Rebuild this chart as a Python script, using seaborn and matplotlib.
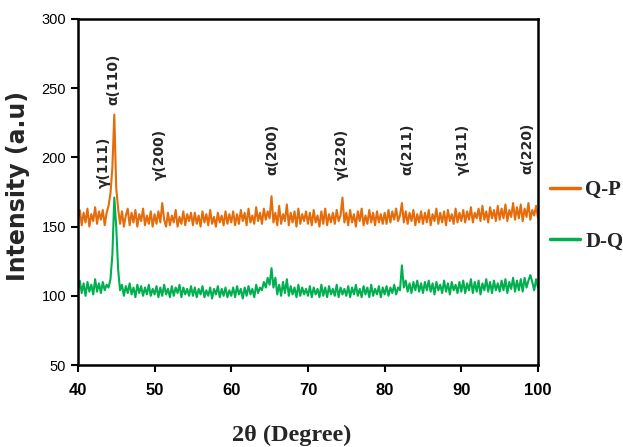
import seaborn as sns
import matplotlib.pyplot as plt
from matplotlib.lines import Line2D
import pandas as pd

# 2theta grid, 0.25 deg steps from 40 to 100
two_theta = [40 + 0.25 * i for i in range(241)]

qp = [156,162,151,160,153,163,150,159,154,164,152,161,155,162,151,160,165,174,193,231,
      178,163,152,161,150,158,163,151,160,153,162,150,159,154,163,151,158,152,161,150,
      159,152,161,153,167,155,150,160,151,158,153,162,150,157,152,161,151,159,154,160,
      151,160,152,158,150,161,153,159,151,162,152,157,150,160,153,158,151,161,152,159,
      153,161,151,159,152,162,154,160,151,163,153,158,152,164,154,160,152,163,155,161,
      156,172,153,160,151,165,152,159,154,166,151,160,153,161,150,163,152,159,154,161,
      152,160,151,162,153,158,150,161,152,163,151,159,153,160,152,162,154,158,171,153,
      160,151,162,153,159,150,161,154,163,151,158,152,162,153,160,151,161,153,159,152,
      160,152,162,153,161,155,163,154,158,167,153,161,152,160,154,162,151,159,153,161,
      152,160,153,162,151,159,154,163,152,160,153,161,151,162,154,159,152,163,153,160,
      154,162,153,161,155,164,153,160,156,163,154,165,155,161,153,164,156,162,154,165,
      155,163,156,166,154,162,157,167,155,164,156,166,154,163,157,167,155,162,158,165,
      156]

dq = [104,111,102,109,100,110,103,108,101,112,103,109,102,110,104,108,106,112,130,171,
      150,119,104,108,100,107,102,109,101,106,99,108,102,107,100,106,101,108,100,105,
      101,107,99,106,100,108,101,105,99,107,100,106,102,108,99,106,101,105,100,107,
      100,106,99,105,101,107,99,104,100,106,98,105,101,107,99,105,100,106,99,104,
      100,106,99,107,101,105,98,106,100,107,101,105,99,108,102,106,104,110,106,113,
      108,120,106,113,101,108,100,110,102,112,100,107,101,106,99,108,100,106,101,105,
      100,107,99,106,101,105,99,108,100,106,99,107,101,105,100,108,99,106,101,105,
      100,107,99,106,101,108,100,105,99,107,101,106,99,108,100,105,101,107,99,106,
      101,107,100,106,102,108,101,106,104,122,106,111,103,109,102,110,104,111,103,109,
      102,110,104,111,103,109,101,110,104,108,102,111,103,109,101,110,104,108,102,110,
      103,111,102,109,104,112,102,110,103,111,101,109,104,112,103,110,102,111,104,109,
      103,111,104,112,102,110,105,113,103,111,104,112,103,113,106,111,115,110,104,112,
      106]

peak_labels = ["γ(111)", "α(110)", "γ(200)", "α(200)", "γ(220)", "α(211)", "γ(311)", "α(220)"]
peak_x = [43.4, 44.6, 50.7, 65.3, 74.4, 83.0, 90.2, 98.6]
peak_y = [178, 238, 184, 187, 184, 187, 187, 188]

df = pd.DataFrame({"2theta": two_theta * 2,
                   "Intensity": qp + dq,
                   "Sample": ["Q-P"] * len(qp) + ["D-Q"] * len(dq)})

sns.set_style("ticks")
plt.rcParams['font.family'] = ['Liberation Sans', 'DejaVu Sans']

fig = plt.figure(figsize=(6.23, 4.47), dpi=100)
ax = fig.add_axes([0.125, 0.1834, 0.7386, 0.7741])

sns.lineplot(data=df, x="2theta", y="Intensity", hue="Sample",
             palette={"Q-P": "#E46C0A", "D-Q": "#00B050"},
             linewidth=1.5, ax=ax, legend=False)

ax.set_xlim(40, 100)
ax.set_ylim(50, 300)
ax.set_xticks([40, 50, 60, 70, 80, 90, 100])
ax.set_yticks([50, 100, 150, 200, 250, 300])
for sp in ax.spines.values():
    sp.set_linewidth(1.8)
    sp.set_color("black")
ax.tick_params(direction="out", length=5, width=1.5, colors="black")
ax.tick_params(axis="x", pad=8)
for lab in ax.get_xticklabels():
    lab.set_fontweight("bold")
    lab.set_fontsize(12)
for lab in ax.get_yticklabels():
    lab.set_fontsize(10.5)

ax.set_ylabel("Intensity (a.u)", fontsize=17, fontweight="bold",
              family=['DejaVu Sans'], labelpad=7)
ax.yaxis.set_label_coords(-0.105, 0.517)
ax.set_xlabel("")
fig.text(292 / 623, 1 - 435 / 447, "2θ (Degree)", fontsize=17.5, fontweight="bold",
         family=['Liberation Serif', 'DejaVu Serif'], ha="center", va="center")

for lab, x, y in zip(peak_labels, peak_x, peak_y):
    ax.text(x, y, lab, rotation=90, ha="center", va="bottom",
            fontsize=10, fontweight="bold", family=['DejaVu Sans'])

handles = [Line2D([], [], color="#E46C0A", lw=2.5), Line2D([], [], color="#00B050", lw=2.5)]
fig.legend(handles, ["Q-P", "D-Q"], loc="center left", bbox_to_anchor=(0.876, 0.517),
           frameon=False, handlelength=1.45, handletextpad=0.25, labelspacing=1.5,
           borderpad=0.2, borderaxespad=0,
           prop={"family": ['Liberation Serif', 'DejaVu Serif'], "weight": "bold", "size": 15})

fig.savefig("out.png", dpi=100)
